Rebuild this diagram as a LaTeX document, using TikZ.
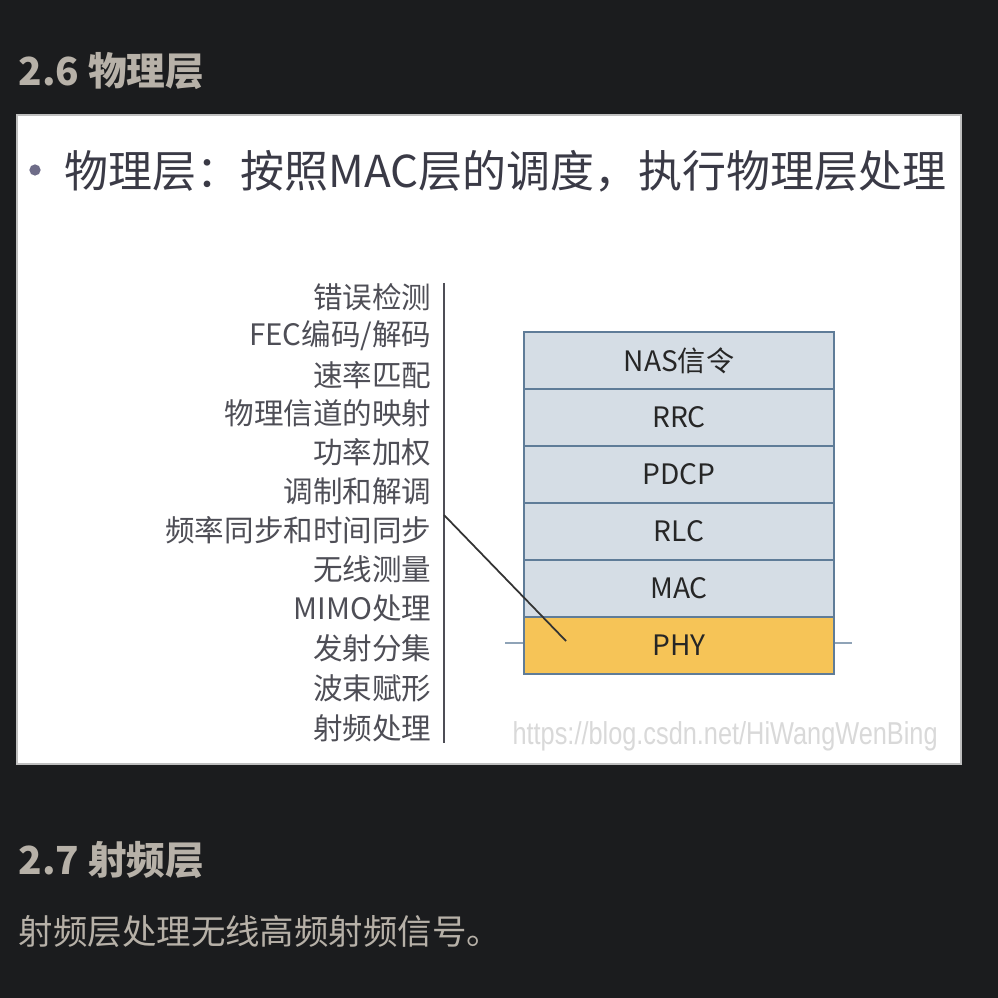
\documentclass[tikz,border=0pt]{standalone}
\usepackage{fontspec}
\setmainfont{Noto Sans CJK SC}
\newfontfamily\urlfont{Liberation Sans}
\usetikzlibrary{positioning}
\definecolor{pagebg}{HTML}{1B1C1E}
\definecolor{headgray}{HTML}{B7B1A8}
\definecolor{slidetext}{HTML}{3A3A46}
\definecolor{itemgray}{HTML}{4E4E56}
\definecolor{layerfill}{HTML}{D5DDE5}
\definecolor{layerline}{HTML}{5F7C98}
\definecolor{phyfill}{HTML}{F6C457}
\definecolor{bulletgray}{HTML}{6E6C88}
\tikzset{
  heading/.style={anchor=west, inner sep=0pt, text=headgray, font=\fontsize{11pt}{13pt}\selectfont\bfseries},
  bodytext/.style={anchor=west, inner sep=0pt, text=headgray, font=\fontsize{9.8pt}{12pt}\selectfont},
  slidetitle/.style={anchor=west, inner sep=0pt, text=slidetext, font=\fontsize{12.5pt}{14pt}\selectfont},
  item/.style={anchor=east, inner sep=0pt, text=itemgray, font=\fontsize{8.4pt}{10pt}\selectfont},
  layer/.style={draw=layerline, line width=0.6pt, fill=layerfill, minimum width=3.1cm, minimum height=0.57cm,
    inner sep=0pt, outer sep=0pt, text=black!85, font=\fontsize{8pt}{10pt}\selectfont},
  phylayer/.style={layer, fill=phyfill}
}
\begin{document}
\begin{tikzpicture}[x=0.01cm, y=-0.01cm]
    % Draw the page and the slide
    \fill[pagebg] (0,0) rectangle (998,998);
    \useasboundingbox (0,0) rectangle (998,998);
    \draw[fill=white, draw=black!25, line width=0.3pt] (17,115) rectangle (961,764);

    % Draw the headings and the text
    \node[heading] (h26) at (18,71) {2.6 物理层};
    \node[heading] (h27) at (18,860) {2.7 射频层};
    \node[bodytext] (rftext) at (18,931) {射频层处理无线高频射频信号。};

    % Draw the slide title
    \fill[bulletgray] (35,170) circle (1.6pt);
    \node[slidetitle] (title) at (64,171) {物理层：按照MAC层的调度，执行物理层处理};

    % Draw the list of functions
    \node[item] (f1) at (432,297) {错误检测};
    \node[item] (f2) at (432,336) {FEC编码/解码};
    \node[item] (f3) at (432,375) {速率匹配};
    \node[item] (f4) at (432,413) {物理信道的映射};
    \node[item] (f5) at (432,452) {功率加权};
    \node[item] (f6) at (432,491) {调制和解调};
    \node[item] (f7) at (432,530) {频率同步和时间同步};
    \node[item] (f8) at (432,569) {无线测量};
    \node[item] (f9) at (432,608) {MIMO处理};
    \node[item] (f10) at (432,648) {发射分集};
    \node[item] (f11) at (432,688) {波束赋形};
    \node[item] (f12) at (432,728) {射频处理};
    \coordinate (bartop) at (444,283);
    \coordinate (barbot) at (444,743);
    \draw[itemgray, line width=0.6pt] (bartop) -- (barbot);

    % Draw the line through PHY
    \coordinate (phyl) at (505,643);
    \coordinate (phyr) at (852,643);
    \draw[layerline!70, line width=0.6pt] (phyl) -- (phyr);

    % Draw the protocol stack
    \node[layer] (nas) at (679,360.5) {NAS信令};
    \node[layer, below=0pt of nas] (rrc) {RRC};
    \node[layer, below=0pt of rrc] (pdcp) {PDCP};
    \node[layer, below=0pt of pdcp] (rlc) {RLC};
    \node[layer, below=0pt of rlc] (mac) {MAC};
    \node[phylayer, below=0pt of mac] (phy) {PHY};

    % Draw the link from the list to PHY
    \coordinate (tap) at (444,515);
    \coordinate (phyin) at (566,641);
    \draw[black!80, line width=0.5pt] (tap) -- (phyin);

    % Draw the watermark
    \node[anchor=west, inner sep=0pt, text=black!15, xscale=0.8, font=\urlfont\fontsize{9pt}{10pt}\selectfont] (mark) at (512,736) {https://blog.csdn.net/HiWangWenBing};
\end{tikzpicture}
\end{document}
